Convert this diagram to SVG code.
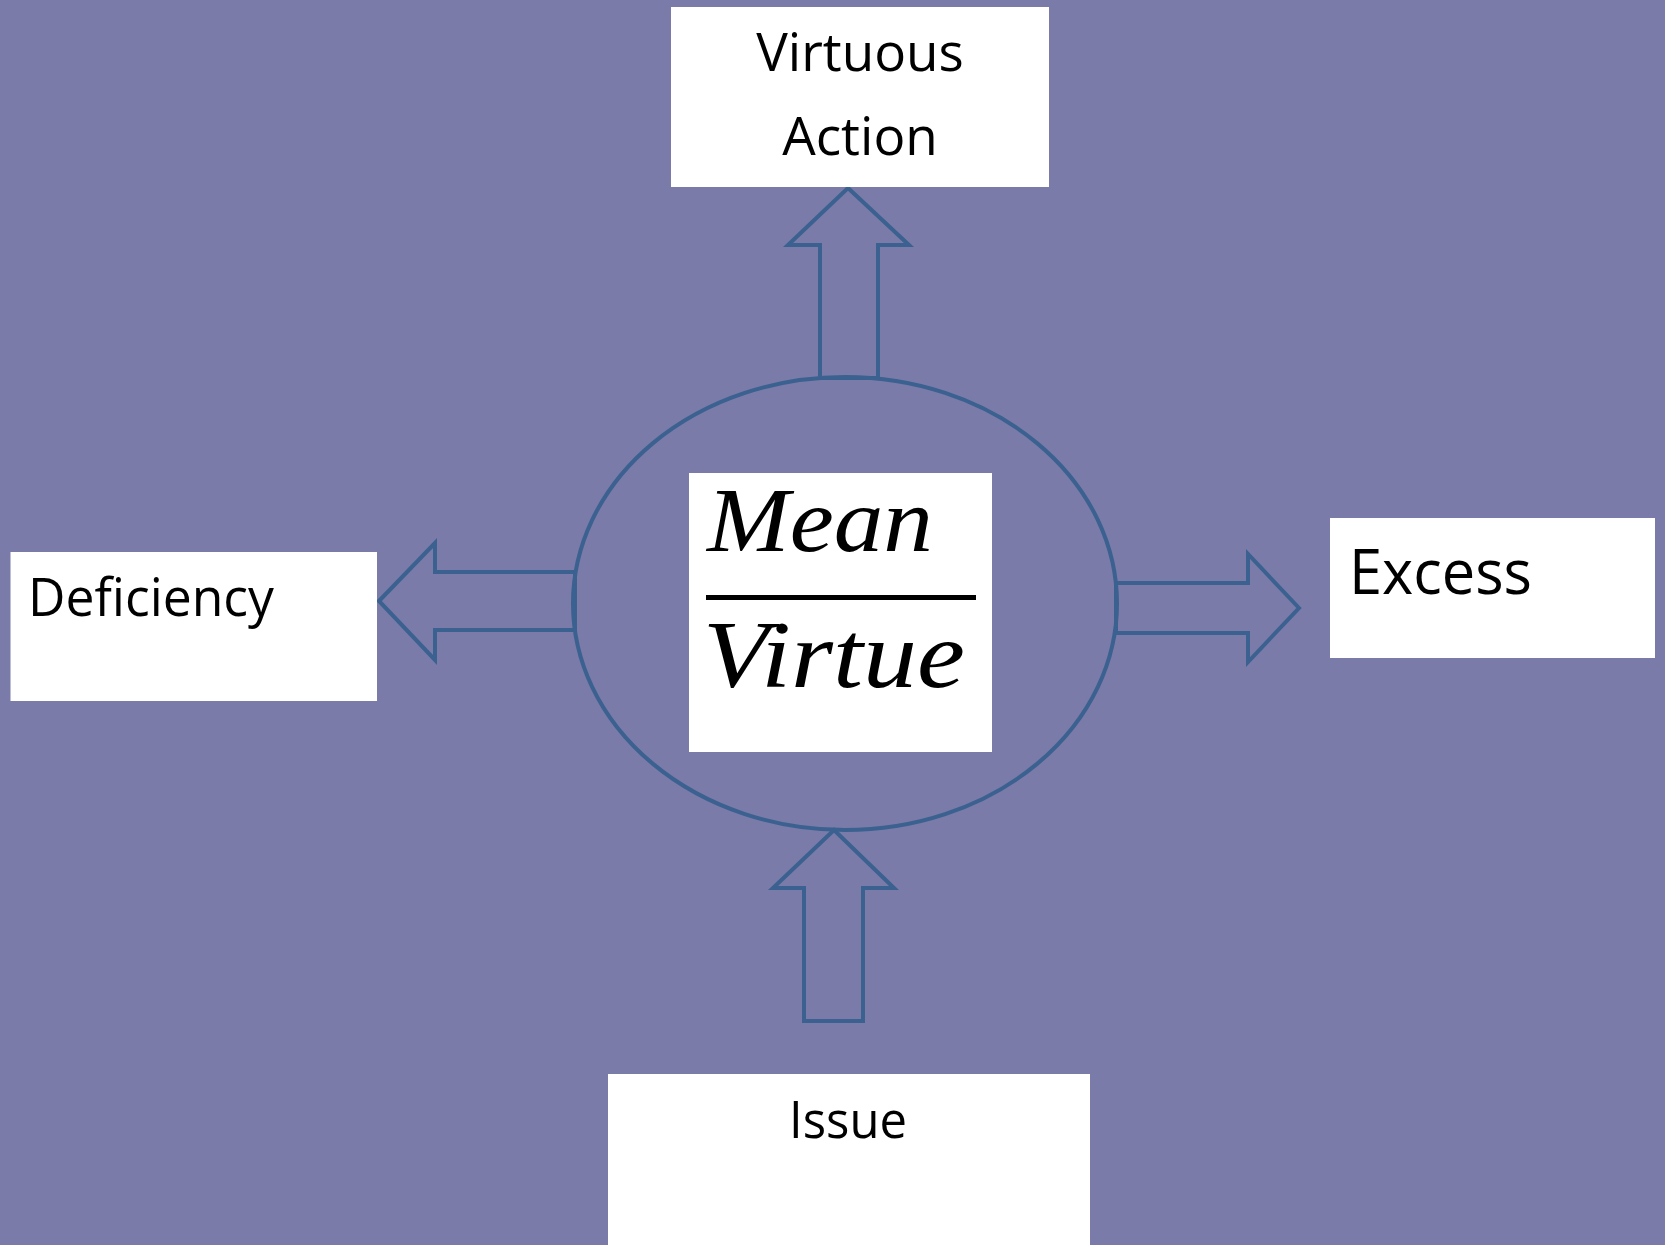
<svg xmlns="http://www.w3.org/2000/svg" width="1665" height="1245" viewBox="0 0 1665 1245">
<style>
.box{fill:#ffffff}
.lbl{font-family:"Open Sans","Liberation Sans",sans-serif;fill:#000000}
.arr{fill:none;stroke:#3b6190;stroke-width:4;stroke-linejoin:miter}
.math{font-family:"Liberation Serif","DejaVu Serif",serif;font-style:italic;fill:#000000}
</style>
<rect x="0" y="0" width="1665" height="1245" fill="#7a7ba8"/>
<g id="connectors">
<polygon class="arr" points="848,188 909,245 878,245 878,378 820,378 820,245 788,245"/>
<polygon class="arr" points="379,601 435,543 435,572 575,572 575,630 435,630 435,660"/>
<polygon class="arr" points="1299,608 1248,554 1248,583 1116,583 1116,633 1248,633 1248,662"/>
<polygon class="arr" points="834,830 894,888 863,888 863,1021 804,1021 804,888 773,888"/>
</g>
<g id="ellipse">
<ellipse cx="845" cy="603.5" rx="272" ry="226.5" fill="none" stroke="#3b6190" stroke-width="4"/>
</g>
<g id="virtuous-action">
<rect class="box" x="671" y="7" width="378" height="180"/>
<text class="lbl" x="860" y="71" font-size="53" text-anchor="middle">Virtuous</text>
<text class="lbl" x="860" y="155" font-size="53" text-anchor="middle">Action</text>
</g>
<g id="mean-virtue">
<rect class="box" x="689" y="473" width="303" height="279"/>
<text class="math" x="707" y="551" font-size="92" textLength="226" lengthAdjust="spacingAndGlyphs">Mean</text>
<rect x="706" y="595" width="270" height="5" fill="#000000"/>
<text class="math" x="703" y="687" font-size="95" textLength="262" lengthAdjust="spacingAndGlyphs">Virtue</text>
</g>
<g id="deficiency">
<rect class="box" x="10.5" y="552" width="366.5" height="149"/>
<text class="lbl" x="28" y="616" font-size="53" textLength="246" lengthAdjust="spacingAndGlyphs">Deficiency</text>
</g>
<g id="excess">
<rect class="box" x="1330" y="518" width="325" height="140"/>
<text class="lbl" x="1349" y="594" font-size="62" textLength="183" lengthAdjust="spacingAndGlyphs">Excess</text>
</g>
<g id="issue">
<rect class="box" x="608" y="1074" width="482" height="171"/>
<text class="lbl" x="789" y="1138" font-size="52" textLength="118" lengthAdjust="spacingAndGlyphs">Issue</text>
</g>
</svg>
